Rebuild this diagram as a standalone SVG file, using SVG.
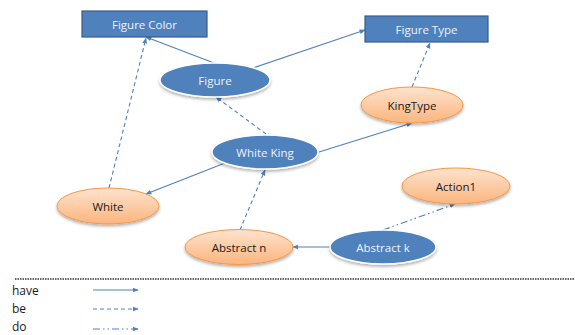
<svg xmlns="http://www.w3.org/2000/svg" width="575" height="335" viewBox="0 0 575 335">
  <style>
    .box { fill: #4F81BD; stroke: #385D8A; stroke-width: 1.2; }
    .blue { fill: #4F81BD; stroke: #ffffff; stroke-width: 1.5; filter: url(#shadow); }
    .orange { fill: url(#peach); stroke: #F79646; stroke-width: 1; filter: url(#shadow); }
    .lbl { font-family: "Open Sans", "Liberation Sans", sans-serif; font-size: 11.5px; text-anchor: middle; dominant-baseline: central; }
    .light { fill: #EEF3FA; }
    .dark { fill: #1a1a1a; }
    .legend { font-family: "Open Sans", "Liberation Sans", sans-serif; font-size: 12px; fill: #1a1a1a; }
    .edge { fill: none; stroke: #4F81BD; stroke-width: 1.1; marker-end: url(#arrow); }
    .have { }
    .be { stroke-dasharray: 4 3; }
    .do { stroke-dasharray: 7 3 1.5 3 1.5 3; }
  </style>
  <defs>
    <linearGradient id="peach" x1="0" y1="0" x2="0" y2="1">
      <stop offset="0" stop-color="#FDE3CD"/>
      <stop offset="1" stop-color="#FAB57E"/>
    </linearGradient>
    <filter id="shadow" x="-20%" y="-30%" width="140%" height="170%">
      <feDropShadow dx="0" dy="2" stdDeviation="1.5" flood-color="#000" flood-opacity="0.3"/>
    </filter>
    <marker id="arrow" viewBox="0 0 10 10" refX="9" refY="5" markerWidth="6" markerHeight="6" markerUnits="userSpaceOnUse" orient="auto">
      <path d="M0,1 L10,5 L0,9 Z" fill="#4F81BD"/>
    </marker>
  </defs>

  <!-- connectors -->
  <g id="connectors">
    <line class="edge have" x1="214" y1="63" x2="146" y2="37"/>
    <line class="edge have" x1="253" y1="68" x2="365" y2="30"/>
    <line class="edge be" x1="266" y1="134" x2="216" y2="97"/>
    <line class="edge be" x1="109" y1="188" x2="146" y2="38"/>
    <line class="edge be" x1="412" y1="87" x2="430" y2="43"/>
    <line class="edge have" x1="319" y1="152" x2="412" y2="123"/>
    <line class="edge have" x1="225" y1="163" x2="146" y2="194"/>
    <line class="edge be" x1="240" y1="230" x2="265" y2="170"/>
    <line class="edge have" x1="330" y1="247" x2="293" y2="247"/>
    <line class="edge do" x1="383" y1="230" x2="455" y2="204"/>
  </g>

  <!-- nodes -->
  <g id="figure-color">
    <rect class="box" x="82" y="11" width="125" height="26"/>
    <text class="lbl light" x="144.5" y="24">Figure Color</text>
  </g>
  <g id="figure-type">
    <rect class="box" x="365" y="16" width="123" height="26"/>
    <text class="lbl light" x="426.5" y="29">Figure Type</text>
  </g>
  <g id="figure">
    <ellipse class="blue" cx="215" cy="80" rx="55" ry="17"/>
    <text class="lbl light" x="215" y="80">Figure</text>
  </g>
  <g id="kingtype">
    <ellipse class="orange" cx="412" cy="105" rx="51" ry="18"/>
    <text class="lbl dark" x="412" y="105">KingType</text>
  </g>
  <g id="white-king">
    <ellipse class="blue" cx="265" cy="152" rx="53" ry="17"/>
    <text class="lbl light" x="265" y="152">White King</text>
  </g>
  <g id="white">
    <ellipse class="orange" cx="108" cy="206" rx="51" ry="18"/>
    <text class="lbl dark" x="108" y="206">White</text>
  </g>
  <g id="action1">
    <ellipse class="orange" cx="456" cy="186" rx="54" ry="18"/>
    <text class="lbl dark" x="456" y="186">Action1</text>
  </g>
  <g id="abstract-n">
    <ellipse class="orange" cx="239" cy="247" rx="54" ry="17.5"/>
    <text class="lbl dark" x="239" y="247">Abstract n</text>
  </g>
  <g id="abstract-k">
    <ellipse class="blue" cx="383" cy="247" rx="53" ry="17"/>
    <text class="lbl light" x="383" y="247">Abstract k</text>
  </g>

  <!-- legend -->
  <g id="legend">
    <line x1="15" y1="279" x2="575" y2="279" stroke="#333" stroke-width="1.5" stroke-dasharray="1.5 1"/>
    <text class="legend" x="12" y="295">have</text>
    <text class="legend" x="12" y="313">be</text>
    <text class="legend" x="12" y="331">do</text>
    <line class="edge have" x1="93" y1="290" x2="138" y2="290"/>
    <line class="edge be" x1="93" y1="309" x2="138" y2="309"/>
    <line class="edge do" x1="93" y1="329" x2="138" y2="329"/>
  </g>
</svg>
